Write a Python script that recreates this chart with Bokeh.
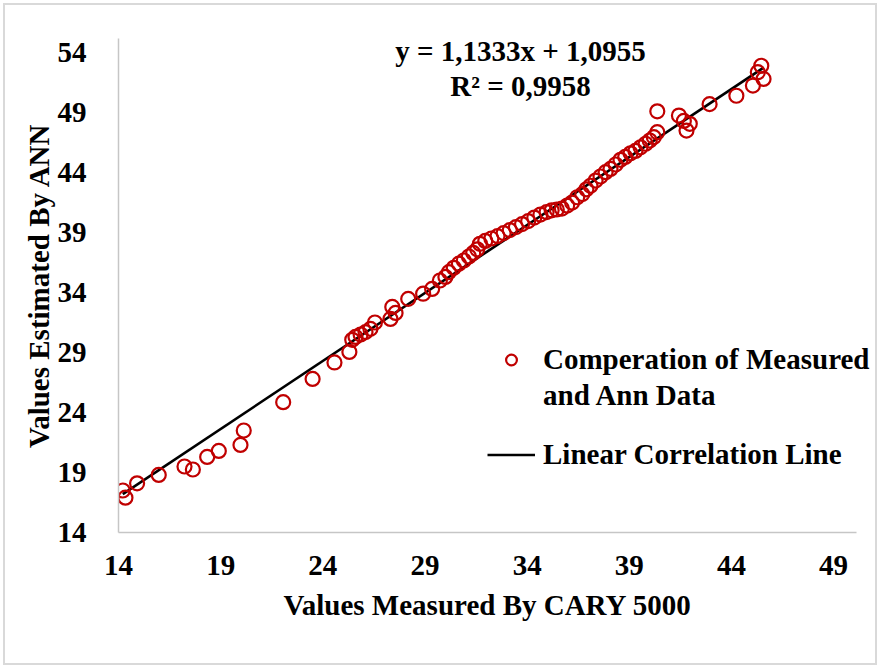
from bokeh.plotting import figure
from bokeh.layouts import column
from bokeh.models import Range1d, FixedTicker, Legend, LegendItem, Label, Title
from bokeh.embed import file_html
from bokeh.resources import INLINE

# Measured (CARY 5000) vs. estimated (ANN) values
measured = [
    14.21, 14.34, 14.91, 15.97, 17.23, 17.64, 18.34, 18.91, 19.97, 20.13,
    22.06, 23.50, 24.57, 25.30, 25.44, 25.60, 25.85, 26.09, 26.33, 26.55,
    27.31, 27.40, 27.56, 28.18, 28.91, 29.35, 29.73, 30.00, 30.17, 30.41,
    30.66, 30.90, 31.15, 31.36, 31.56, 31.69, 31.95, 32.25, 32.55, 32.85,
    33.15, 33.45, 33.75, 34.05, 34.35, 34.65, 34.95, 35.20, 35.45, 35.70,
    35.96, 36.20, 36.45, 36.70, 36.90, 37.10, 37.35, 37.59, 37.84, 38.08,
    38.33, 38.57, 38.80, 39.06, 39.30, 39.55, 39.80, 40.00, 40.20, 40.37,
    40.37, 41.43, 41.67, 41.96, 41.80, 42.93, 44.24, 45.05, 45.29, 45.46,
    45.57,
]
estimated = [
    17.50, 16.90, 18.10, 18.80, 19.50, 19.25, 20.30, 20.80, 21.30, 22.50,
    24.86, 26.80, 28.17, 29.05, 30.06, 30.30, 30.50, 30.70, 30.97, 31.50,
    31.80, 32.80, 32.30, 33.47, 33.90, 34.30, 35.00, 35.30, 35.70, 36.06,
    36.40, 36.67, 37.00, 37.30, 37.60, 38.06, 38.30, 38.50, 38.70, 38.95,
    39.20, 39.45, 39.70, 39.95, 40.25, 40.50, 40.70, 40.85, 40.92, 41.00,
    41.25, 41.50, 41.94, 42.20, 42.60, 42.90, 43.33, 43.67, 44.03, 44.30,
    44.67, 45.06, 45.30, 45.60, 45.80, 46.10, 46.40, 46.67, 46.95, 47.36,
    49.10, 48.75, 48.30, 48.06, 47.50, 49.70, 50.40, 51.25, 52.36, 52.90,
    51.80,
]

# Fitted trend line coefficients
slope = 1.1333
intercept = 1.0955
r_squared = 0.9958

x_ticks = [14, 19, 24, 29, 34, 39, 44, 49]
y_ticks = [14, 19, 24, 29, 34, 39, 44, 49, 54]

FONT = "Liberation Serif"
FSIZE = "29px"
RED = "#C00000"
AXIS_GREY = "#c6c6c6"

p = figure(
    width=870, height=658,
    output_backend="svg", toolbar_location=None,
    x_range=Range1d(14, 51.05), y_range=Range1d(14, 55.17),
    min_border_left=113, min_border_right=0,
    min_border_top=33, min_border_bottom=131,
)
p.outline_line_color = None
p.xgrid.visible = False
p.ygrid.visible = False

for ax, ticks in ((p.xaxis, x_ticks), (p.yaxis, y_ticks)):
    ax.ticker = FixedTicker(ticks=ticks)
    ax.major_tick_line_color = None
    ax.minor_tick_line_color = None
    ax.axis_line_color = AXIS_GREY
    ax.axis_line_width = 1.5
    ax.major_label_text_font = FONT
    ax.major_label_text_font_style = "bold"
    ax.major_label_text_font_size = FSIZE
    ax.major_label_text_color = "black"
    ax.axis_label_text_font = FONT
    ax.axis_label_text_font_style = "bold"
    ax.axis_label_text_font_size = FSIZE
    ax.axis_label_text_color = "black"

p.xaxis.bounds = (14, 50.1)
p.yaxis.axis_label = "Values Estimated By ANN"
p.xaxis.major_label_standoff = 17
p.yaxis.major_label_standoff = 26
p.yaxis.axis_label_standoff = 0

# x-axis title, centred under the drawn axis span
p.add_layout(Title(text="Values Measured By CARY 5000", align="left", offset=165,
                   standoff=18, text_font=FONT, text_font_style="bold",
                   text_font_size=FSIZE, text_color="black"), "below")

# trend line across the measured span
x0, x1 = min(measured), max(measured)
trend = p.line([x0, x1], [slope * x0 + intercept, slope * x1 + intercept],
               line_color="black", line_width=2.6)

pts = p.scatter(measured, estimated, marker="circle", size=14,
                fill_color=None, line_color=RED, line_width=2.2)

# invisible proxy for the legend's second text line
leg_blank = p.scatter(x=[], y=[], marker="circle", size=1,
                      fill_alpha=0, line_alpha=0)

common = dict(
    label_text_font=FONT, label_text_font_style="bold",
    label_text_font_size=FSIZE, label_text_color="black",
    glyph_width=48, glyph_height=27, label_height=20, label_standoff=8,
    padding=0, margin=0, border_line_color=None, background_fill_alpha=0,
)
legend_a = Legend(items=[LegendItem(label="Comperation of Measured", renderers=[pts]),
                         LegendItem(label="and Ann Data", renderers=[leg_blank])],
                  location=(369, 120), spacing=3, **common)
legend_b = Legend(items=[LegendItem(label="Linear Correlation Line", renderers=[trend])],
                  location=(369, 61), **common)
p.add_layout(legend_a)
p.add_layout(legend_b)

eq_style = dict(x_units="screen", y_units="screen", text_font=FONT,
                text_font_style="bold", text_font_size=FSIZE,
                text_align="center", text_baseline="middle", text_color="black")
p.add_layout(Label(x=402, y=482, text=f"y = {slope:.4f}x + {intercept:.4f}".replace(".", ","), **eq_style))
p.add_layout(Label(x=402, y=447, text=f"R² = {r_squared:.4f}".replace(".", ","), **eq_style))

# light grey frame round the whole chart
page = column(p, styles={"border": "2px solid #d9d9d9", "margin": "3px"})

open("out.html", "w").write(file_html(page, INLINE))
